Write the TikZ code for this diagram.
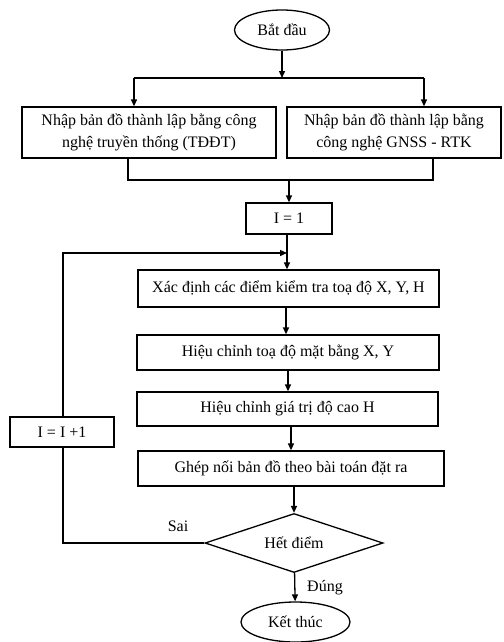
\documentclass[tikz,border=0pt]{standalone}
\usepackage{fontspec}
\setmainfont{Liberation Serif}
\usetikzlibrary{shapes.geometric,arrows.meta,calc}
\begin{document}
\begin{tikzpicture}[x=1pt,y=-1pt,
  every node/.style={font=\fontsize{16}{22}\selectfont, inner sep=0pt},
  box/.style={draw, line width=1.3pt, rectangle, align=center},
  term/.style={draw, line width=1.3pt, ellipse},
  dec/.style={draw, line width=1.3pt, diamond, aspect=3},
  line/.style={line width=1.3pt},
  arr/.style={line width=1.3pt, -{Triangle[length=7pt,width=6pt]}},
  lbl/.style={font=\fontsize{16}{20}\selectfont}]
\useasboundingbox (0,0) rectangle (503,642);
\node[term, minimum width=95pt, minimum height=40pt] (start) at (282,30) {Bắt đầu};
\node[box, minimum width=254pt, minimum height=51pt] (left) at (149,132.5) {Nhập bản đồ thành lập bằng công\\nghệ truyền thống (TĐĐT)};
\node[box, minimum width=214pt, minimum height=51pt] (right) at (394,132.5) {Nhập bản đồ thành lập bằng\\công nghệ GNSS - RTK};
\node[box, minimum width=86pt, minimum height=31pt] (i1) at (289,218.5) {I = 1};
\node[box, minimum width=301pt, minimum height=37pt] (xac) at (288.5,288.5) {Xác định các điểm kiểm tra toạ độ X, Y, H};
\node[box, minimum width=302pt, minimum height=35pt] (hc1) at (288,352.5) {Hiệu chỉnh toạ độ mặt bằng X, Y};
\node[box, minimum width=301pt, minimum height=34pt] (hc2) at (287.5,409) {Hiệu chỉnh giá trị độ cao H};
\node[box, minimum width=306pt, minimum height=35pt] (ghep) at (291,468.5) {Ghép nối bản đồ theo bài toán đặt ra};
\node[dec, minimum width=178pt, minimum height=59pt] (dia) at (294,543) {Hết điểm};
\node[box, minimum width=104pt, minimum height=30pt] (inc) at (62,432) {I = I +1};
\node[term, minimum width=109pt, minimum height=40pt] (end) at (295.5,622) {Kết thúc};
\node[lbl] (sai) at (178,526) {Sai};
\node[lbl] (dung) at (325,588) {Đúng};
% coordinates
\coordinate (j1) at (282,78);
\coordinate (jl) at (134,78);
\coordinate (jr) at (424,78);
\coordinate (bl) at (128,180);
\coordinate (br) at (433,180);
\coordinate (bm) at (289,180);
\coordinate (loop) at (63,253);
\coordinate (lin) at (287,253);
\coordinate (low) at (63,543);
\draw[arr] (start) -- (j1);
\draw[line] (jl) -- (jr);
\draw[arr] (jl) -- (jl |- left.north);
\draw[arr] (jr) -- (jr |- right.north);
\draw[line] (bl |- left.south) -- (bl) -- (br) -- (br |- right.south);
\draw[arr] (bm) -- (i1);
\draw[arr] (i1.south -| lin) -- (lin |- xac.north);
\draw[arr] (xac.south -| 286,0) -- (hc1.north -| 286,0);
\draw[arr] (hc1.south -| 288,0) -- (hc2.north -| 288,0);
\draw[arr] (hc2.south -| 291,0) -- (ghep.north -| 291,0);
\draw[arr] (ghep.south -| dia.north) -- (dia.north);
\draw[arr] (dia) -- (end);
\draw[line] (dia.west) -- (low) -- (inc.south -| low);
\draw[arr] (inc.north -| loop) -- (loop) -- (lin);
\end{tikzpicture}
\end{document}
